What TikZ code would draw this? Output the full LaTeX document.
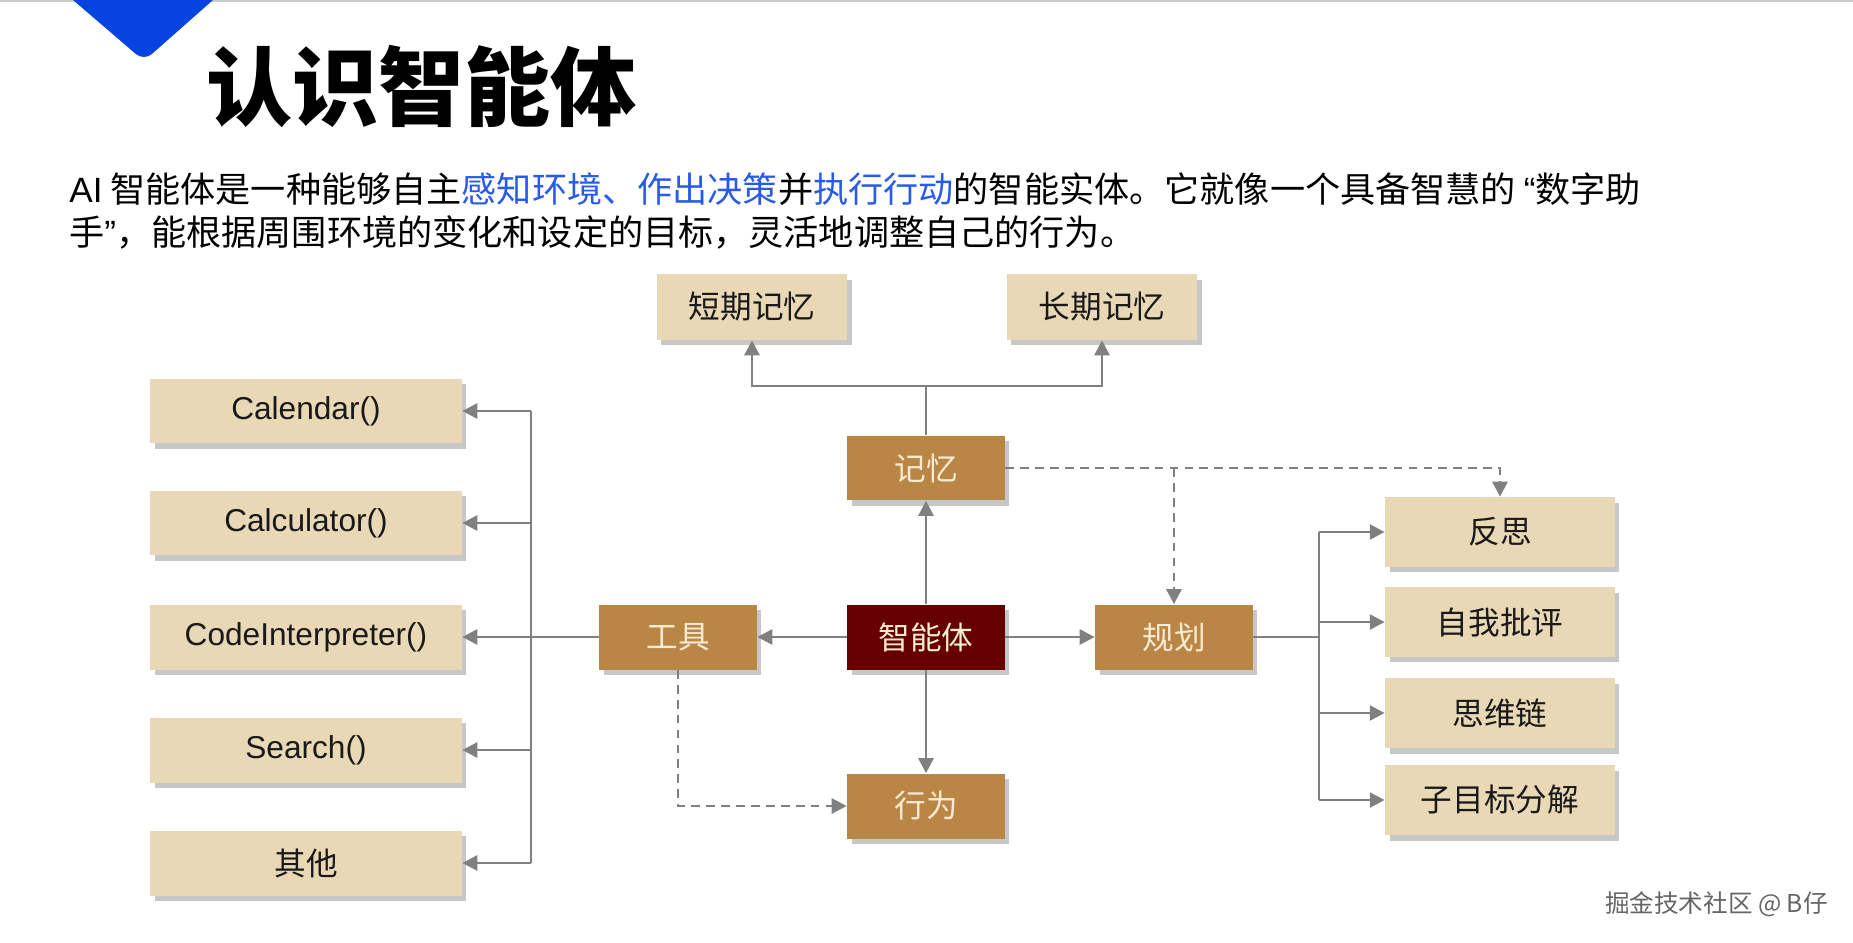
\documentclass[tikz,border=0pt]{standalone}
\usepackage{fontspec}
\setmainfont{Liberation Sans}
\newfontfamily\cjk{Noto Sans CJK SC}
\usepackage{tikz}
\usetikzlibrary{arrows.meta,shadows}
\definecolor{boxsand}{HTML}{E8D8B6}
\definecolor{boxtan}{HTML}{BA8646}
\definecolor{boxwine}{HTML}{660000}
\definecolor{tancream}{HTML}{FAEBD2}
\definecolor{wireg}{HTML}{808080}
\definecolor{accent}{HTML}{0644E0}
\definecolor{linkblue}{HTML}{2A5BE8}
\tikzset{
  card/.style={inner sep=0pt,minimum height=1.3cm,font=\fontsize{18}{20}\selectfont,
    drop shadow={shadow xshift=0.09cm,shadow yshift=-0.11cm,fill=black!55,opacity=0.4}},
  sandcard/.style={card,fill=boxsand,text=black!90},
  tancard/.style={card,fill=boxtan,text=tancream,minimum width=3.16cm},
  wire/.style={draw=wireg,line width=1.6pt},
  wirearrow/.style={wire,-{Triangle[length=8.5pt,width=8.5pt]}},
  dasharrow/.style={wirearrow,dash pattern=on 5pt off 3.5pt}
}
\begin{document}
\begin{tikzpicture}[x=0.02cm,y=-0.02cm]
    \useasboundingbox (0,0) rectangle (1853,943);
    \fill[white] (0,0) rectangle (1853,943);
    \draw[black!20,line width=1pt] (0,1) -- (1853,1);
    \fill[accent] (73,0) -- (213,0) [rounded corners=6pt] -- (144,61) [sharp corners] -- cycle;
    \node[anchor=west,inner sep=0pt,font=\cjk\bfseries\fontsize{49}{49}\selectfont] (title) at (206,86) {认识智能体};
    \node[anchor=west,inner sep=0pt,align=left,font=\cjk\fontsize{20}{24}\selectfont] (intro) at (69,211)
      {{\rmfamily AI} 智能体是一种能够自主\textcolor{linkblue}{感知环境、作出决策}并\textcolor{linkblue}{执行行动}的智能实体。它就像一个具备智慧的 {\rmfamily “}数字助\\手{\rmfamily ”}，能根据周围环境的变化和设定的目标，灵活地调整自己的行为。};

    \node[sandcard,minimum width=3.82cm,minimum height=1.32cm] (short) at (752,307) {\cjk 短期记忆};
    \node[sandcard,minimum width=3.82cm,minimum height=1.32cm] (long) at (1102,307) {\cjk 长期记忆};
    \node[tancard] (mem) at (926,468) {\cjk 记忆};
    \node[card,fill=boxwine,text=tancream,minimum width=3.16cm] (agent) at (926,637) {\cjk 智能体};
    \node[tancard] (act) at (926,806) {\cjk 行为};
    \node[tancard] (tool) at (678,637) {\cjk 工具};
    \node[tancard] (plan) at (1174,637) {\cjk 规划};

    \node[sandcard,minimum width=6.24cm] (cal) at (306,411) {Calendar()};
    \node[sandcard,minimum width=6.24cm] (calc) at (306,523) {Calculator()};
    \node[sandcard,minimum width=6.24cm] (code) at (306,637) {CodeInterpreter()};
    \node[sandcard,minimum width=6.24cm] (search) at (306,750) {Search()};
    \node[sandcard,minimum width=6.24cm] (other) at (306,863) {\cjk 其他};

    \node[sandcard,minimum width=4.6cm,minimum height=1.4cm] (refl) at (1500,532) {\cjk 反思};
    \node[sandcard,minimum width=4.6cm,minimum height=1.4cm] (crit) at (1500,622) {\cjk 自我批评};
    \node[sandcard,minimum width=4.6cm,minimum height=1.4cm] (cot) at (1500,713) {\cjk 思维链};
    \node[sandcard,minimum width=4.6cm,minimum height=1.4cm] (sub) at (1500,800) {\cjk 子目标分解};

    \node[anchor=east,inner sep=0pt,font=\cjk\fontsize{14}{14}\selectfont,text=black!60] (mark) at (1828,904) {掘金技术社区 @ B仔};

    \coordinate (mfork) at (926,386);
    \draw[wire] (mem.north) -- (mfork);
    \draw[wirearrow] (mfork) -| (short.south);
    \draw[wirearrow] (mfork) -| (long.south);
    \draw[wirearrow] (agent) -- (mem);
    \draw[wirearrow] (agent) -- (act);
    \draw[wirearrow] (agent) -- (tool);
    \draw[wirearrow] (agent) -- (plan);

    \coordinate (tbus) at (531,637);
    \draw[wire] (tool.west) -- (tbus);
    \draw[wire] (tbus |- cal.east) -- (tbus |- other.east);
    \foreach \n in {cal,calc,code,search,other}
      \draw[wirearrow] (tbus |- \n.east) -- (\n.east);

    \coordinate (pbus) at (1319,637);
    \draw[wire] (plan.east) -- (pbus);
    \draw[wire] (pbus |- refl.west) -- (pbus |- sub.west);
    \foreach \n in {refl,crit,cot,sub}
      \draw[wirearrow] (pbus |- \n.west) -- (\n.west);

    \draw[dasharrow] (mem.east) -| (refl.north);
    \draw[dasharrow] (mem.east -| plan.north) -- (plan.north);
    \draw[dasharrow] (tool.south) |- (act.west);
  \end{tikzpicture}
\end{document}
